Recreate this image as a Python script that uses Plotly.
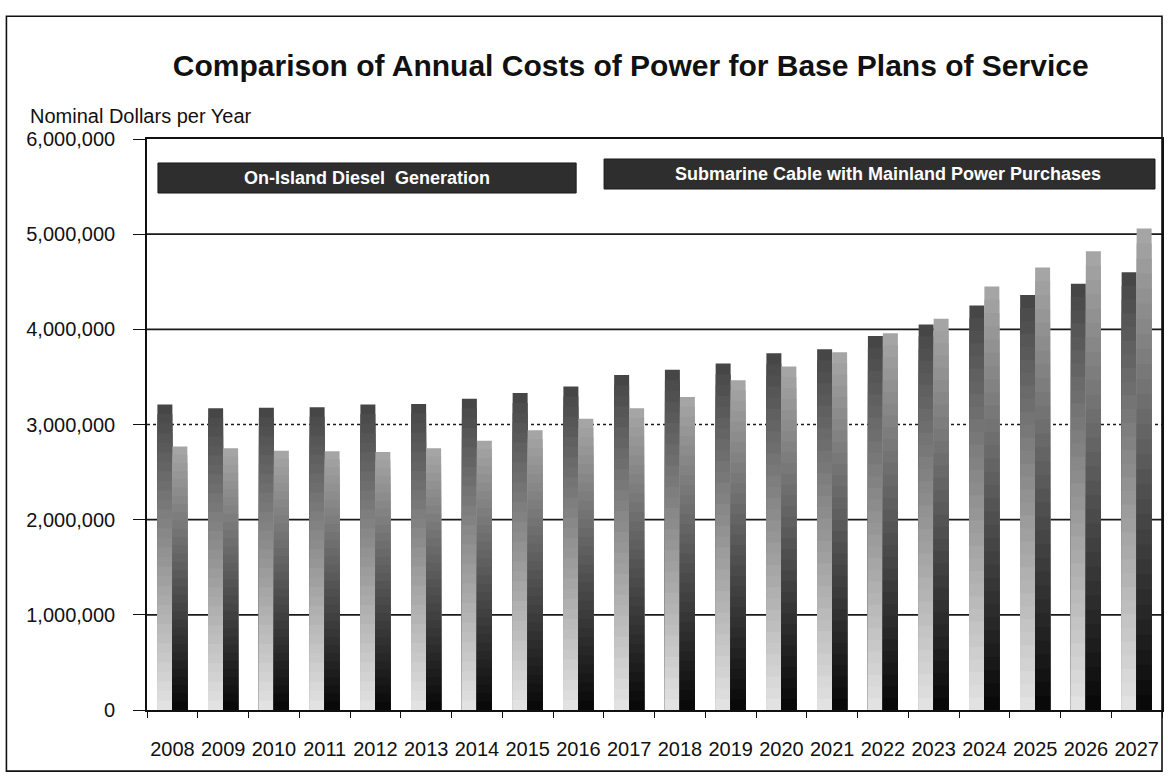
import plotly.graph_objects as go

# Annual cost of power, nominal dollars per year
years = [str(y) for y in range(2008, 2028)]
diesel_cost = [3210000, 3170000, 3175000, 3180000, 3210000, 3215000, 3270000,
               3330000, 3400000, 3520000, 3575000, 3640000, 3750000, 3790000,
               3930000, 4050000, 4250000, 4360000, 4480000, 4600000]
cable_cost = [2770000, 2750000, 2725000, 2720000, 2710000, 2750000, 2830000,
              2940000, 3060000, 3170000, 3290000, 3465000, 3610000, 3760000,
              3960000, 4110000, 4450000, 4650000, 4820000, 5060000]
y_ticks = [0, 1000000, 2000000, 3000000, 4000000, 5000000, 6000000]
plan_labels = ["On-Island Diesel  Generation",
               "Submarine Cable with Mainland Power Purchases"]

FONT = "Liberation Sans, Arial, sans-serif"
N_STEPS = 32  # shading steps per bar


def mix(c0, c1, t):
    a = [int(c0[i:i + 2], 16) for i in (1, 3, 5)]
    b = [int(c1[i:i + 2], 16) for i in (1, 3, 5)]
    return "rgb(%d,%d,%d)" % tuple(round(a[j] + (b[j] - a[j]) * t) for j in range(3))


def shaded_bar(fig, values, group, bottom_col, top_col):
    # full-height bar first, then progressively shorter bars drawn over it,
    # each starting at zero, so the shading has no seams
    for k in range(N_STEPS):
        frac = (N_STEPS - k) / N_STEPS
        t = (N_STEPS - k - 0.5) / N_STEPS
        fig.add_trace(go.Bar(
            x=years,
            y=[v * frac for v in values],
            offsetgroup=group,
            marker=dict(color=mix(bottom_col, top_col, t), line=dict(width=0)),
            showlegend=False,
            hoverinfo="skip",
        ))


fig = go.Figure()
shaded_bar(fig, diesel_cost, "diesel", "#e4e4e4", "#444444")
shaded_bar(fig, cable_cost, "cable", "#060606", "#a8a8a8")

# horizontal gridlines at the tick values (3,000,000 line is dotted)
for v in y_ticks[1:-1]:
    fig.add_shape(type="line", xref="paper", yref="y", x0=0, x1=1, y0=v, y1=v,
                  line=dict(color="#1a1a1a", width=1.6,
                            dash="dot" if v == 3000000 else "solid"),
                  layer="below")

# outer chart frame
fig.add_shape(type="rect", xref="paper", yref="paper",
              x0=-0.1385, x1=1.0, y0=-0.107, y1=1.215,
              line=dict(color="#111111", width=1.6), layer="below")

# plan label boxes: (x0, x1, y0, y1) in plot-area fractions
boxes = [(0.0108, 0.4228, 0.9054, 0.958), (0.4503, 0.9931, 0.9124, 0.965)]
text_x = [0.2168, 0.73]
for (x0, x1, y0, y1), tx, text in zip(boxes, text_x, plan_labels):
    fig.add_shape(type="rect", xref="paper", yref="paper",
                  x0=x0, x1=x1, y0=y0, y1=y1,
                  fillcolor="#2e2e2e", line=dict(color="#1c1c1c", width=1))
    fig.add_annotation(xref="paper", yref="paper", x=tx, y=(y0 + y1) / 2,
                       xanchor="center", yanchor="middle",
                       text="<b>%s</b>" % text, showarrow=False,
                       font=dict(family=FONT, size=18, color="white"))

fig.add_annotation(xref="paper", yref="paper", x=-0.117, y=1.04,
                   xanchor="left", yanchor="middle", showarrow=False,
                   text="Nominal Dollars per Year",
                   font=dict(family=FONT, size=20, color="#111111"))

fig.update_layout(
    width=1168, height=776,
    margin=dict(l=147, r=4, t=139, b=66),
    paper_bgcolor="white", plot_bgcolor="white",
    barmode="group", bargap=0.41, bargroupgap=0.0,
    title=dict(text="<b>Comparison of Annual Costs of Power for Base Plans of Service</b>",
               x=0.54, xanchor="center", y=0.916, yanchor="middle",
               font=dict(family=FONT, size=30, color="#111111")),
    font=dict(family=FONT, color="#111111"),
    showlegend=False,
)
fig.update_xaxes(type="category", showgrid=False, showline=True, mirror=True,
                 linecolor="#111111", linewidth=1.6, ticks="outside",
                 tickson="boundaries", ticklen=6, tickcolor="#111111",
                 tickangle=0,
                 tickfont=dict(family=FONT, size=20, color="#111111"),
                 ticklabelstandoff=20)
fig.update_yaxes(range=[0, 6000000], tickvals=y_ticks, tickformat=",d",
                 showgrid=False, zeroline=False, showline=True, mirror=True,
                 linecolor="#111111", linewidth=1.6, ticks="outside",
                 ticklen=12, tickcolor="#111111",
                 tickfont=dict(family=FONT, size=20, color="#111111"),
                 ticklabelstandoff=14)

fig.write_html("out.html")
